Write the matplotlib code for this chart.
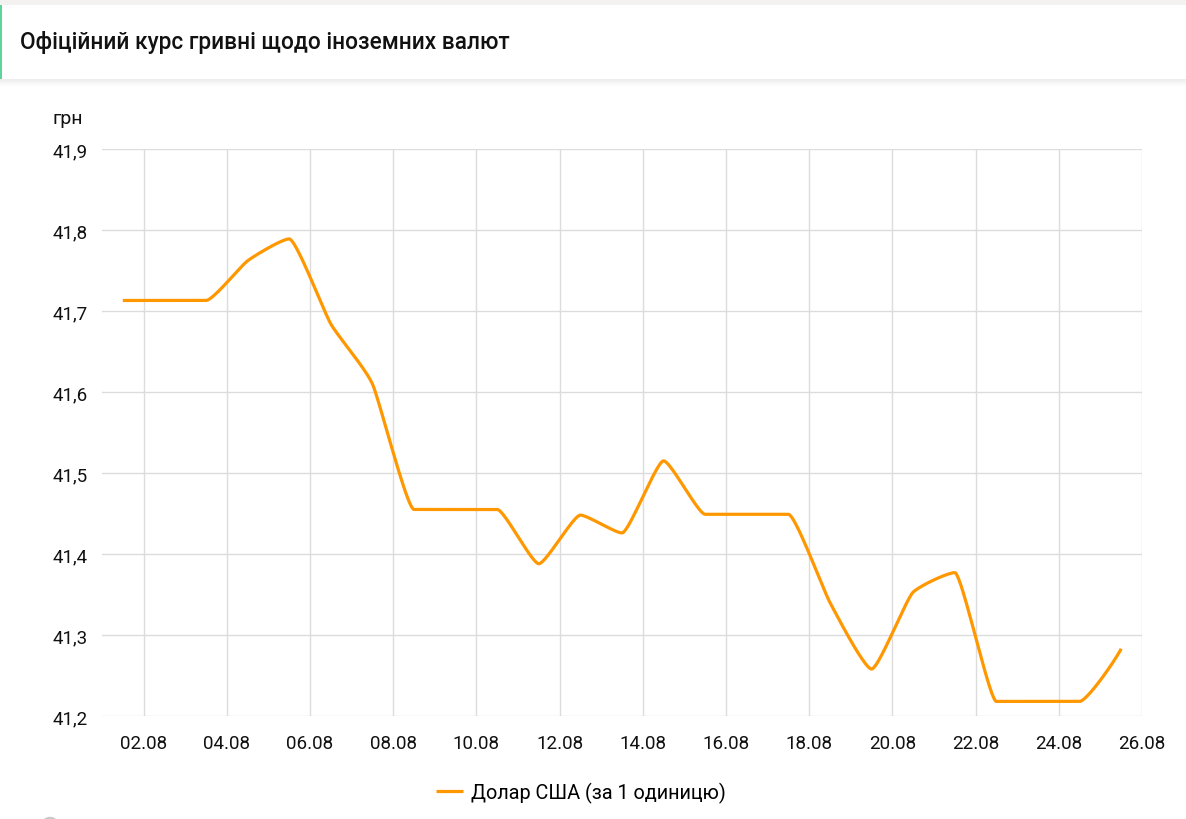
import matplotlib
matplotlib.use('Agg')
import matplotlib.pyplot as plt
import numpy as np
from matplotlib.patches import Rectangle, Circle

TITLE = 'Офіційний курс гривні щодо іноземних валют'
SERIES_NAME = 'Долар США (за 1 одиницю)'
UNIT = 'грн'

# daily rate, 01.08 .. 25.08
days = list(range(1, 26))
rates = [41.713, 41.713, 41.713, 41.762, 41.789, 41.684, 41.610, 41.455,
         41.455, 41.455, 41.388, 41.448, 41.426, 41.515, 41.449, 41.449,
         41.449, 41.340, 41.258, 41.353, 41.377, 41.218, 41.218, 41.218,
         41.283]
tick_days = list(range(2, 27, 2))
tick_labels = ['%02d.08' % d for d in tick_days]
y_ticks = [41.2, 41.3, 41.4, 41.5, 41.6, 41.7, 41.8, 41.9]

W, H = 1186, 820
LINE_COLOR = '#ff9800'
GRID_COLOR = '#dcdcdc'
ARM = 0.17  # length of bezier control arms, fraction of the step

plt.rcParams['font.family'] = ['Roboto', 'DejaVu Sans']


def smooth_line(x, y, arm=ARM, steps=40):
    # monotone tangents (d3 monotoneX style) with short bezier arms:
    # nearly straight segments with rounded corners
    x = np.asarray(x, float)
    y = np.asarray(y, float)
    h = np.diff(x)
    s = np.diff(y) / h
    m = np.zeros_like(y)
    for k in range(1, len(y) - 1):
        p = (s[k - 1] * h[k] + s[k] * h[k - 1]) / (h[k - 1] + h[k])
        m[k] = (np.sign(s[k - 1]) + np.sign(s[k])) * min(abs(s[k - 1]), abs(s[k]), 0.5 * abs(p))
    m[0] = (3 * s[0] - m[1]) / 2
    m[-1] = (3 * s[-1] - m[-2]) / 2
    xs, ys = [], []
    t = np.linspace(0, 1, steps, endpoint=False)[:, None]
    for k in range(len(h)):
        p0 = np.array([x[k], y[k]])
        p3 = np.array([x[k + 1], y[k + 1]])
        d = arm * h[k]
        p1 = p0 + [d, d * m[k]]
        p2 = p3 - [d, d * m[k + 1]]
        pts = ((1 - t) ** 3 * p0 + 3 * (1 - t) ** 2 * t * p1
               + 3 * (1 - t) * t ** 2 * p2 + t ** 3 * p3)
        xs.append(pts[:, 0])
        ys.append(pts[:, 1])
    xs.append([x[-1]])
    ys.append([y[-1]])
    return np.concatenate(xs), np.concatenate(ys)


fig = plt.figure(figsize=(W / 100, H / 100), dpi=100)
fig.patch.set_facecolor('white')

# header card
fig.add_artist(Rectangle((0, 1 - 6 / H), 1, 6 / H, transform=fig.transFigure,
                         facecolor='#f3f2f0', edgecolor='none'))
for i in range(7):
    fig.add_artist(Rectangle((0, 1 - (81 + i) / H), 1, 1 / H, transform=fig.transFigure,
                             facecolor='#000000', alpha=0.07 * (1 - i / 7), edgecolor='none'))
fig.add_artist(Rectangle((0, 1 - 80 / H), 1, 74 / H, transform=fig.transFigure,
                         facecolor='white', edgecolor='none'))
fig.add_artist(Rectangle((0, 1 - 80 / H), 2 / W, 74 / H, transform=fig.transFigure,
                         facecolor='#5fd39c', edgecolor='none'))
fig.text(20 / W, 1 - 43 / H, TITLE, fontsize=16.3, fontweight='medium',
         color='#111111', va='center', ha='left')

ax = fig.add_axes([102 / W, 1 - 717 / H, (1142 - 102) / W, (717 - 150) / H])
x = np.array(days) + 0.5
cx, cy = smooth_line(x, rates)
ax.plot(cx, cy, color=LINE_COLOR, linewidth=2.3, label=SERIES_NAME,
        solid_capstyle='butt', solid_joinstyle='round', zorder=3)

ax.set_xlim(1, 26)
ax.set_ylim(41.2, 41.9)
ax.set_xticks(tick_days)
ax.set_xticklabels(tick_labels)
ax.set_yticks(y_ticks)
ax.set_yticklabels([('%.1f' % v).replace('.', ',') for v in y_ticks])
ax.tick_params(length=0, labelsize=13.5, colors='#111111')
ax.tick_params(axis='y', pad=10)
ax.tick_params(axis='x', pad=13)
ax.grid(True, color=GRID_COLOR, linewidth=1)
ax.set_axisbelow(True)
for s in ax.spines.values():
    s.set_visible(False)

fig.text(52 / W, 1 - 119 / H, UNIT, fontsize=14, color='#111111',
         va='center', ha='left')

fig.legend(loc='center', bbox_to_anchor=(581 / W, 1 - 793 / H), frameon=False,
           fontsize=14.3, handlelength=1.35, handletextpad=0.4)

fig.add_artist(Circle((50 / W, 1 - 823 / H), 6 / W, transform=fig.transFigure,
                      facecolor='none', edgecolor='#c8c8c8', linewidth=1.5))

fig.savefig('out.png', dpi=100)
